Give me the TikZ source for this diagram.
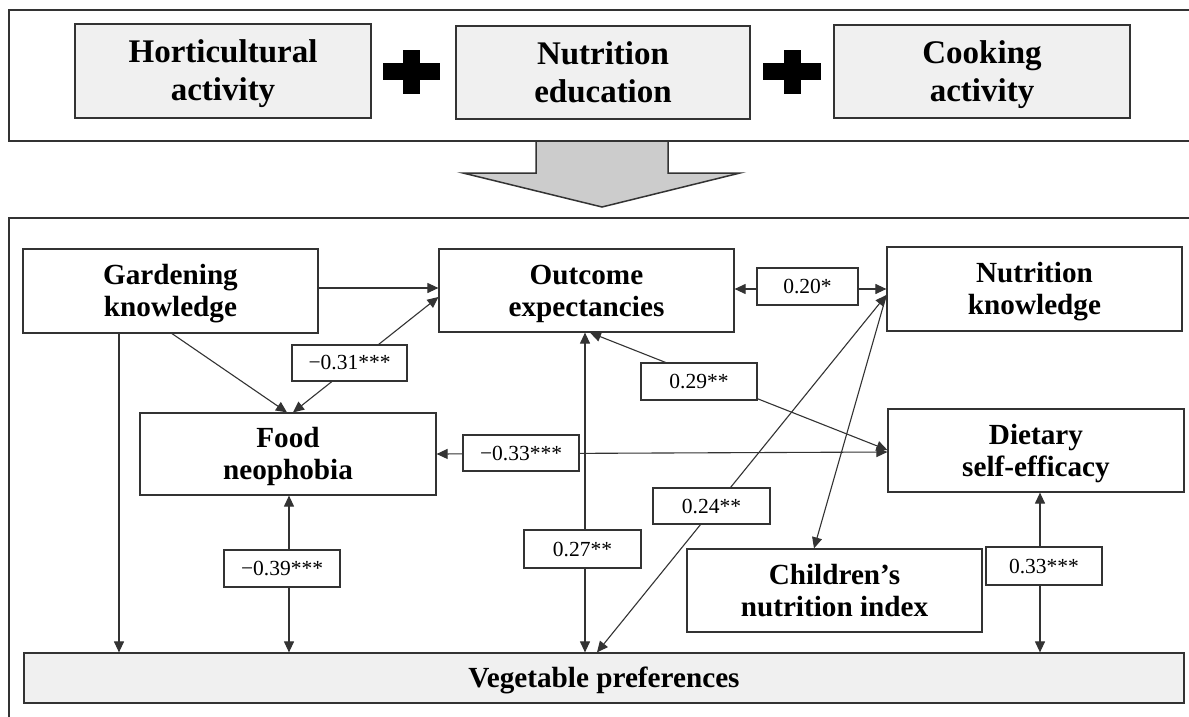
\documentclass[tikz,border=0pt]{standalone}
\usepackage{fontspec}
\setmainfont{Liberation Serif}
\usetikzlibrary{arrows.meta}
\definecolor{ln}{HTML}{333333}
\definecolor{boxfill}{HTML}{F0F0F0}
\definecolor{arrowfill}{HTML}{CCCCCC}
\newcommand\topln{\rule{0pt}{0.96em}}
\newcommand\botln{\rule[-0.3em]{0pt}{0pt}}
\tikzset{
  frame/.style={draw=ln, line width=2pt},
  topbox/.style={draw=ln, line width=1.2pt, fill=boxfill, inner sep=0pt, align=center,
    font=\fontsize{33}{38}\selectfont\bfseries},
  varbox/.style={draw=ln, line width=1.2pt, fill=white, inner sep=0pt, align=center,
    minimum width=295pt, minimum height=83pt, font=\fontsize{29.2}{32}\selectfont\bfseries},
  lab/.style={draw=ln, line width=1.2pt, fill=white, inner sep=0pt,
    minimum width=116pt, minimum height=37pt, font=\fontsize{21.5}{24}\selectfont},
  con/.style={draw=ln, line width=1.1pt},
  arr/.style={con, -{Triangle[length=11pt,width=10pt]}},
  arrb/.style={con, {Triangle[length=11pt,width=10pt]}-{Triangle[length=11pt,width=10pt]}}
}
\begin{document}
\begin{tikzpicture}[x=1pt,y=-1pt]
\useasboundingbox (0,0) rectangle (1189,717);
\clip (0,0) rectangle (1189,717);
\fill[white] (0,0) rectangle (1189,717);

% big arrow
\filldraw[fill=arrowfill, draw=ln, line width=1.5pt, line join=miter]
  (536,141) -- (536,173) -- (463,173) -- (602,207) -- (740,173) -- (668,173) -- (668,141);

% frames
\draw[frame] (9,10) rectangle (1200,141);
\draw[frame] (9,218) rectangle (1200,730);

% top boxes
\node[topbox, minimum width=296pt, minimum height=94pt] (hort) at (223,71) {\topln Horticultural\\activity\botln};
\node[topbox, minimum width=294pt, minimum height=93pt] (nedu) at (603,72.5) {\topln Nutrition\\education\botln};
\node[topbox, minimum width=296pt, minimum height=93pt] (cook) at (982,71.5) {\topln Cooking\\activity\botln};

% plus signs
\fill[black] (383,63.5) rectangle (440,80.5);
\fill[black] (403,50.5) rectangle (420,93.5);
\fill[black] (763,63.5) rectangle (821,80.5);
\fill[black] (783.5,50.5) rectangle (800.5,93.5);

% variable boxes
\node[varbox, minimum height=84pt] (gk) at (170.5,291) {\topln Gardening\\knowledge\botln};
\node[varbox] (oe) at (586.5,290.5) {\topln Outcome\\expectancies\botln};
\node[varbox, minimum height=84pt] (nk) at (1034.5,289) {\topln Nutrition\\knowledge\botln};
\node[varbox, minimum width=296pt, minimum height=82pt] (fn) at (288,454) {\topln Food\\neophobia\botln};
\node[varbox, minimum width=296pt] (ds) at (1036,450.5) {\topln Dietary\\self-efficacy\botln};
\node[varbox] (cni) at (834.5,590.5) {\topln Children’s\\nutrition index\botln};
\node[varbox, fill=boxfill, minimum width=1160pt, minimum height=50pt] (veg) at (604,678) {\topln Vegetable preferences\botln};

% connectors
\draw[arr] (gk.east |- 0,288) -- (oe.west |- 0,288);
\draw[arr] (gk.south -| 172,0) -- (fn.north -| 287,0);
\draw[arrb] (fn.north -| 293,0) -- (oe.west |- 0,297);
\draw[arrb] (oe.east |- 0,289) -- (nk.west |- 0,289);
\draw[arrb] (oe.south -| 590,0) -- (ds.west |- 0,450);
\draw[arrb] (fn.east |- 0,454) -- (ds.west |- 0,452);
\draw[arrb] (oe.south -| 585,0) -- (veg.north -| 585,0);
\draw[arrb] (nk.west |- 0,295) -- (veg.north -| 597,0);
\draw[arr] (nk.west |- 0,295) -- (cni.north -| 814,0);
\draw[arr] (gk.south -| 119,0) -- (veg.north -| 119,0);
\draw[arrb] (fn.south -| 289,0) -- (veg.north -| 289,0);
\draw[arrb] (ds.south -| 1040,0) -- (veg.north -| 1040,0);

% coefficient labels
\node[lab, minimum width=115pt, minimum height=36pt] (l31) at (349.5,363) {−0.31***};
\node[lab, minimum width=101pt] (l20) at (807.5,286.5) {0.20*};
\node[lab] (l29) at (699,381.5) {0.29**};
\node[lab, minimum height=36pt] (l33n) at (521,453) {−0.33***};
\node[lab] (l39) at (282,568.5) {−0.39***};
\node[lab, minimum width=117pt, minimum height=38pt] (l27) at (582.5,549) {0.27**};
\node[lab, minimum width=117pt, minimum height=36pt] (l24) at (711.5,506) {0.24**};
\node[lab, minimum height=38pt] (l33) at (1044,566) {0.33***};
\end{tikzpicture}
\end{document}
